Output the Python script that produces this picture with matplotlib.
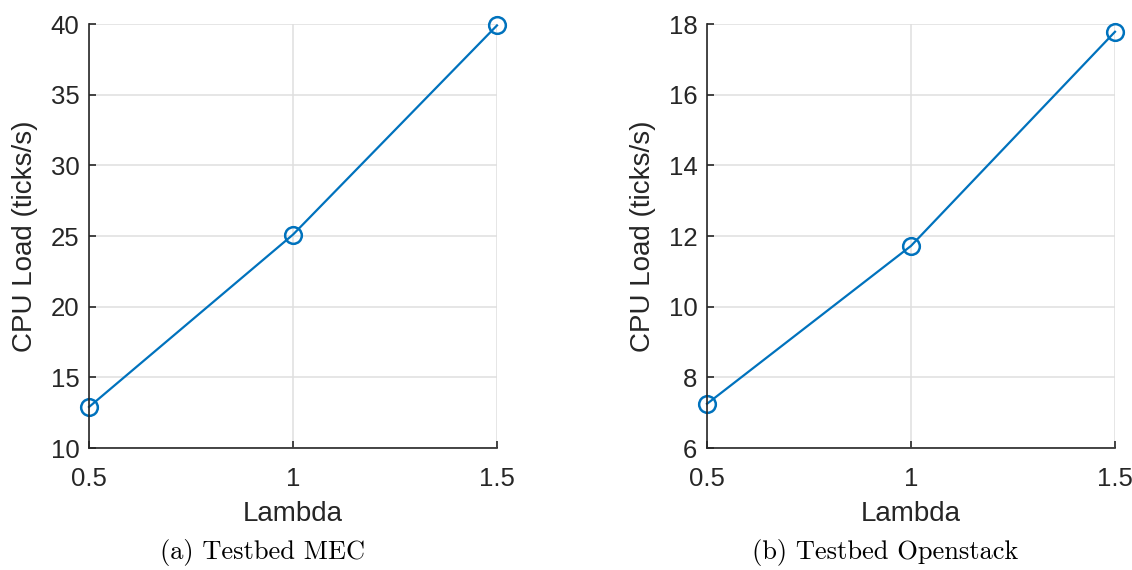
import numpy as np
import matplotlib
matplotlib.use('Agg')
import matplotlib.pyplot as plt

lam = [0.5, 1.0, 1.5]
cpu_mec = [12.9, 25.1, 39.9]
cpu_openstack = [7.25, 11.72, 17.78]

blue = '#0072BD'
W, H = 1132, 570
plt.rcParams['font.family'] = ['Liberation Sans', 'DejaVu Sans']
plt.rcParams['xtick.direction'] = 'in'
plt.rcParams['ytick.direction'] = 'in'
fig = plt.figure(figsize=(W / 100, H / 100), dpi=100)


def setup(ax, ylim, yticks):
    ax.set_xlim(0.5, 1.5)
    ax.set_ylim(*ylim)
    ax.set_xticks(lam)
    ax.set_xticklabels(['0.5', '1', '1.5'])
    ax.set_yticks(yticks)
    ax.grid(True, color='#dfdfdf', linewidth=1.1)
    ax.set_axisbelow(True)
    for s in ['top', 'right']:
        ax.spines[s].set_visible(False)
    for s in ['left', 'bottom']:
        ax.spines[s].set_color('#262626')
        ax.spines[s].set_linewidth(1.2)
    ax.tick_params(direction='in', length=5, width=1.2, colors='#262626',
                   labelsize=18.5, pad=7)
    ax.tick_params(axis='x', pad=14)
    ax.set_xlabel('Lambda', fontsize=20, color='#262626', labelpad=7)
    ax.set_ylabel('CPU Load (ticks/s)', fontsize=20, color='#262626', labelpad=9)


ax1 = fig.add_axes([89 / W, (H - 448) / H, 408 / W, 424 / H])
ax1.plot(lam, cpu_mec, '-o', color=blue, lw=1.6, ms=12, mfc='none', mew=1.8,
         clip_on=False)
setup(ax1, (10, 40), np.arange(10, 41, 5))

ax2 = fig.add_axes([707 / W, (H - 448) / H, 408 / W, 424 / H])
ax2.plot(lam, cpu_openstack, '-o', color=blue, lw=1.6, ms=12, mfc='none', mew=1.8,
         clip_on=False)
setup(ax2, (6, 18), np.arange(6, 19, 2))

fig.text(262 / W, 1 - 553 / H, '(a) Testbed MEC', family='cmr10', fontsize=19,
         ha='center', va='center')
fig.text(885 / W, 1 - 553 / H, '(b) Testbed Openstack', family='cmr10', fontsize=19,
         ha='center', va='center')

fig.savefig('out.png', dpi=100)
